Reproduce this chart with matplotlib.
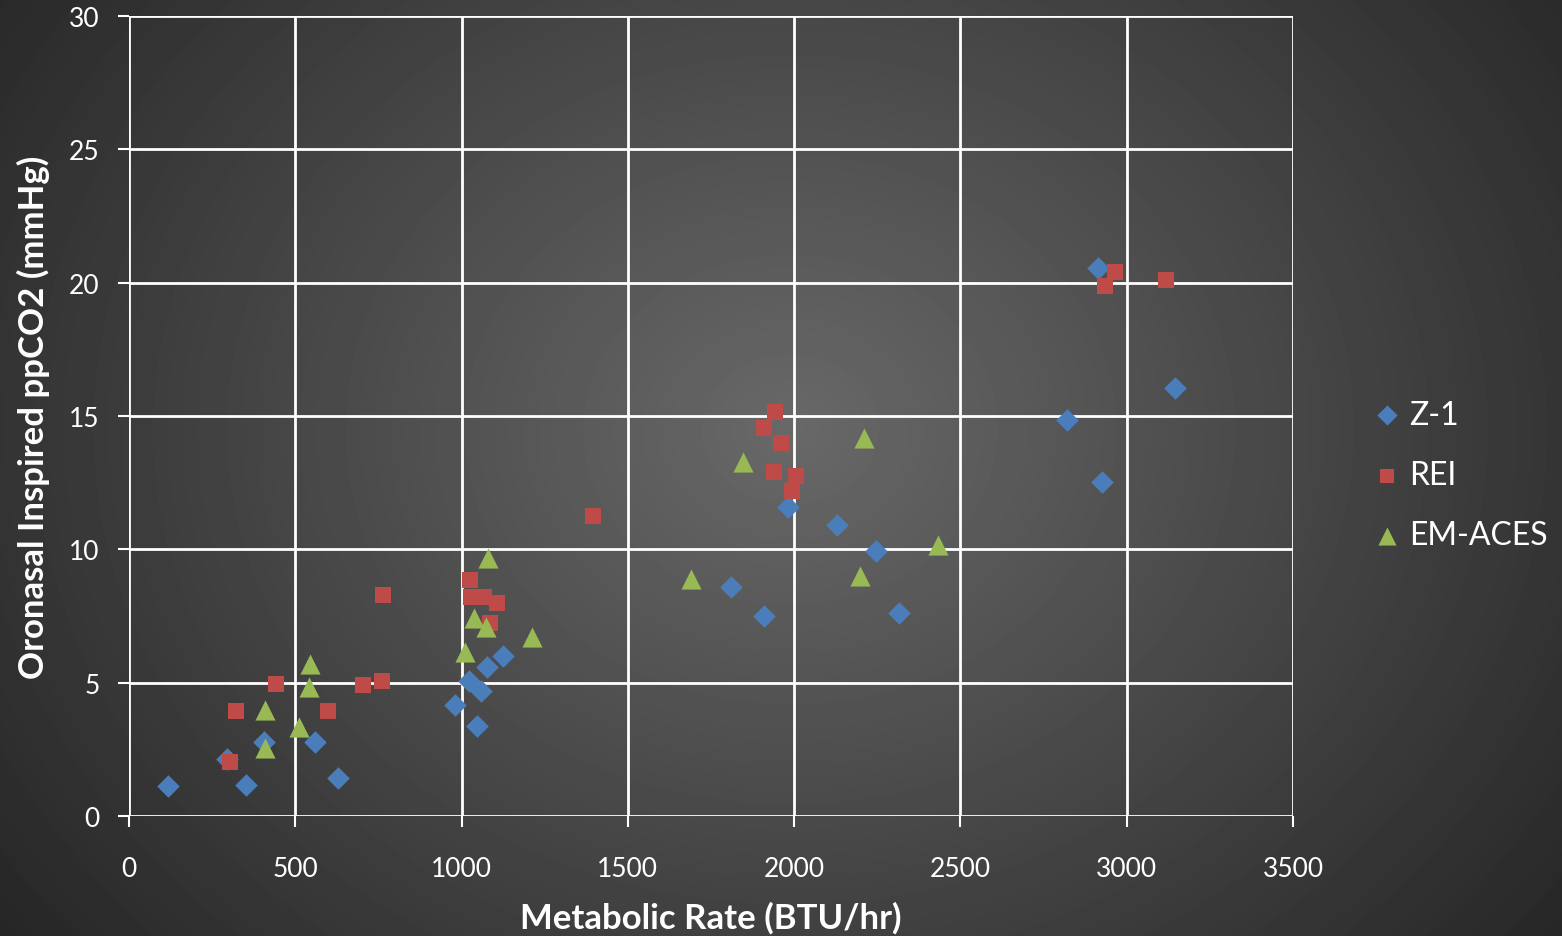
import numpy as np
from matplotlib import pyplot as plt

plt.rcParams["font.family"] = ["Lato", "DejaVu Sans"]

# Z-1 (blue diamonds)
z1_x = [117, 295, 352, 406, 559, 628, 980, 1022, 1046, 1058, 1076, 1124,
        1810, 1909, 1981, 2129, 2246, 2315, 2820, 2913, 2925, 3145]
z1_y = [1.12, 2.14, 1.16, 2.78, 2.78, 1.42, 4.16, 5.06, 3.38, 4.69, 5.59, 6.0,
        8.6, 7.5, 11.6, 10.9, 9.94, 7.61, 14.85, 20.55, 12.52, 16.05]

# REI (red squares)
rei_x = [304, 321, 442, 598, 704, 761, 764, 1025, 1028, 1067, 1106, 1085,
         1395, 1909, 1942, 1960, 1939, 2005, 1993, 2934, 2964, 3118]
rei_y = [2.03, 3.94, 4.95, 3.94, 4.91, 5.06, 8.29, 8.85, 8.21, 8.21, 7.99, 7.24,
         11.25, 14.55, 15.15, 13.99, 12.9, 12.75, 12.19, 19.87, 20.4, 20.1]

# EM-ACES (green triangles)
em_x = [409, 409, 511, 544, 541, 1010, 1037, 1073, 1079, 1212,
        1690, 1846, 2210, 2198, 2432]
em_y = [3.98, 2.55, 3.34, 5.7, 4.84, 6.15, 7.42, 7.09, 9.67, 6.71,
        8.89, 13.27, 14.17, 9.0, 10.16]

W, H = 1562, 937
fig = plt.figure(figsize=(W / 100, H / 100), dpi=100)

# radial gradient background
bg = fig.add_axes([0, 0, 1, 1], zorder=0)
yy, xx = np.mgrid[0:H, 0:W]
r = np.sqrt(((xx - 790) / 950) ** 2 + ((yy - 430) / 800) ** 2)
shade = np.clip(0.41 - 0.25 * r, 0.14, 0.41)
bg.imshow(shade, cmap="gray", vmin=0, vmax=1, aspect="auto",
          extent=[0, 1, 0, 1], interpolation="bilinear")
bg.set_axis_off()

ax = fig.add_axes([129 / W, 1 - 817 / H, (1293 - 129) / W, (817 - 17) / H], zorder=1)
ax.set_facecolor("none")

ax.scatter(z1_x, z1_y, marker="D", s=11.5 ** 2, color="#4a7ebb", label="Z-1", zorder=3, linewidths=0)
ax.scatter(rei_x, rei_y, marker="s", s=11 ** 2, color="#be4b48", label="REI", zorder=3, linewidths=0)
ax.scatter(em_x, em_y, marker="^", s=14.5 ** 2, color="#98b954", label="EM-ACES", zorder=3, linewidths=0)

ax.set_xlim(0, 3500)
ax.set_ylim(0, 30)
ax.set_xticks(np.arange(0, 3501, 500))
ax.set_yticks(np.arange(0, 31, 5))
ax.grid(True, color="white", linewidth=2, zorder=1)
ax.set_axisbelow(True)
for s in ax.spines.values():
    s.set_visible(False)
ax.tick_params(colors="white", labelcolor="white", labelsize=19, length=8, width=1.5)
ax.tick_params(axis="x", pad=21)
ax.tick_params(axis="y", pad=13)

ax.set_xlabel("Metabolic Rate (BTU/hr)", color="white", fontsize=25, fontweight="bold", labelpad=14)
ax.set_ylabel("Oronasal Inspired ppCO2 (mmHg)", color="white", fontsize=25, fontweight="bold", labelpad=14)

leg = ax.legend(loc="center left", bbox_to_anchor=(1371 / W, 1 - 476 / H),
                bbox_transform=fig.transFigure, frameon=False, fontsize=23,
                labelcolor="white", handletextpad=0.2, labelspacing=0.95,
                handlelength=1.0, borderpad=0, borderaxespad=0,
                scatterpoints=1, markerscale=0.9)

fig.savefig("out.png", dpi=100)
